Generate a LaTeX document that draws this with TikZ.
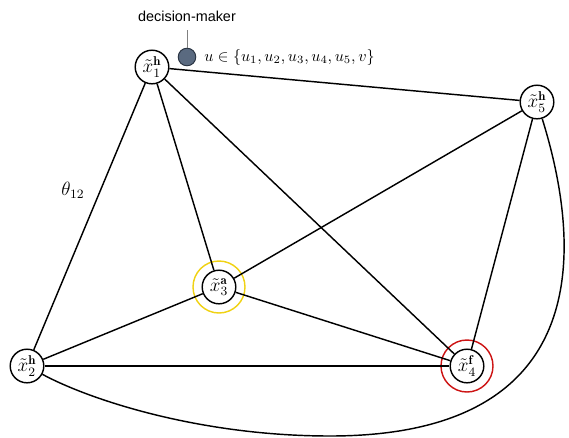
\documentclass[tikz,border=0pt]{standalone}
\usepackage{fontspec}
\newfontfamily\labelfont{Liberation Sans}
\begin{document}
\begin{tikzpicture}[x=0.625pt,y=-0.625pt,
  agent/.style={circle,draw,line width=0.9pt,fill=white,minimum size=21pt,inner sep=0pt,font=\large},
  ring/.style={circle,draw,line width=0.9pt,minimum size=32.5pt,inner sep=0pt},
  edge/.style={line width=0.9pt}]
\useasboundingbox (0,0) rectangle (569,438);
\node[agent] (x1) at (152,67) {$\tilde{x}^{\mathbf{h}}_1$};
\node[agent] (x2) at (27,366) {$\tilde{x}^{\mathbf{h}}_2$};
\node[agent] (x3) at (219,287) {$\tilde{x}^{\mathbf{a}}_3$};
\node[agent] (x4) at (467,366) {$\tilde{x}^{\mathbf{f}}_4$};
\node[agent] (x5) at (537,102) {$\tilde{x}^{\mathbf{h}}_5$};
\node[ring,draw={rgb,255:red,240;green,210;blue,20}] (r3) at (x3) {};
\node[ring,draw={rgb,255:red,205;green,20;blue,20}] (r4) at (x4) {};
\node[circle,draw={rgb,255:red,40;green,50;blue,65},line width=0.6pt,fill={rgb,255:red,90;green,106;blue,128},minimum size=11pt,inner sep=0pt] (dm) at (187,57) {};
\node[font=\labelfont\fontsize{9}{11}\selectfont] (dml) at (187,16) {decision-maker};
\coordinate (dmt) at (187,30);
\draw[gray,line width=0.6pt] (dmt) -- (dm);
\node[anchor=west,inner sep=0pt] (ul) at (204,57) {$u\in\{u_1,u_2,u_3,u_4,u_5,v\}$};
\node[font=\large] (th) at (73,190) {$\theta_{12}$};
\draw[edge] (x1) -- (x5);
\draw[edge] (x1) -- (x2);
\draw[edge] (x1) -- (x3);
\draw[edge] (x1) -- (x4);
\draw[edge] (x2) -- (x3);
\draw[edge] (x2) -- (x4);
\draw[edge] (x3) -- (x4);
\draw[edge] (x3) -- (x5);
\draw[edge] (x4) -- (x5);
\coordinate (low) at (330,436);
\draw[edge] (x5) .. controls (580,240) and (600,436) .. (low)
  .. controls (200,436) and (90,400) .. (x2);
\end{tikzpicture}
\end{document}
